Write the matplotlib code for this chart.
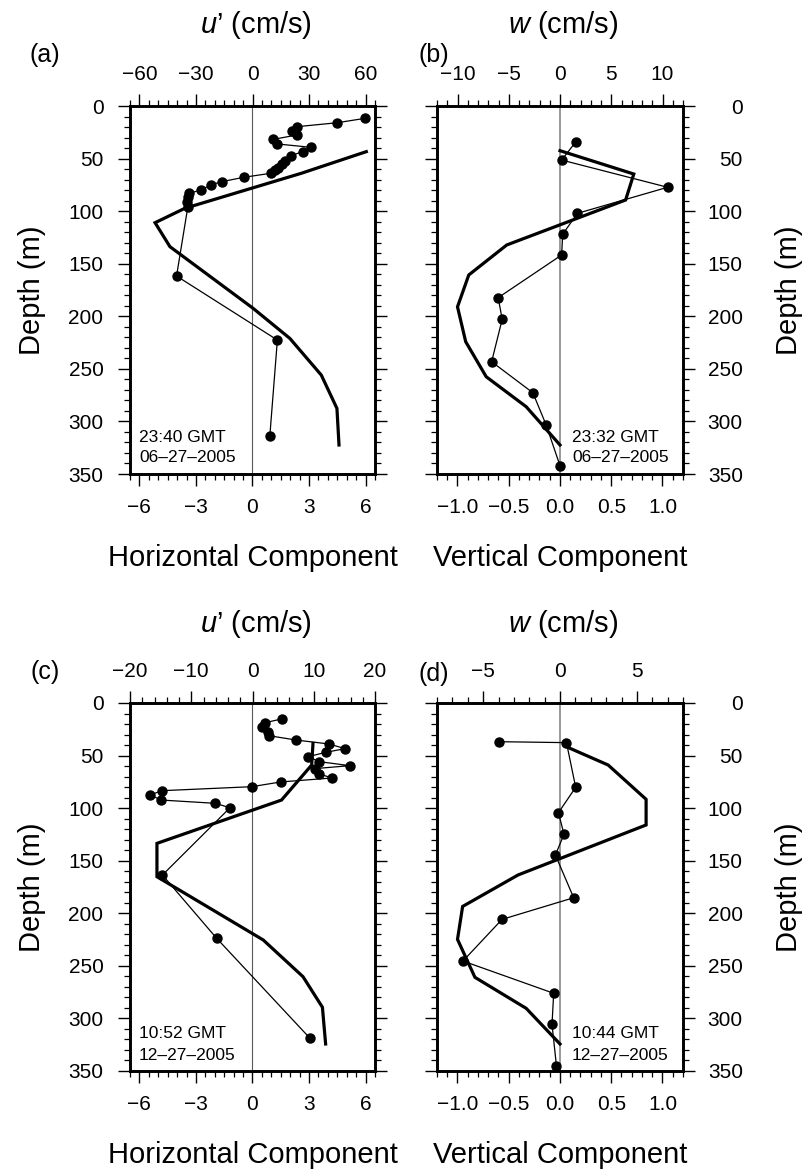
import matplotlib
matplotlib.use("Agg")
import matplotlib.pyplot as plt
from matplotlib.ticker import MultipleLocator, FuncFormatter

plt.rcParams['font.family'] = ['Liberation Sans', 'DejaVu Sans']
plt.rcParams['mathtext.fontset'] = 'custom'
plt.rcParams['mathtext.rm'] = 'Liberation Sans'
plt.rcParams['mathtext.it'] = 'Liberation Sans:italic'

# (a) horizontal, 06-27-2005: observed u' (cm/s) and model profile
u_a = [59.8, 45.0, 23.5, 21.2, 23.5, 11.1, 13.2, 31.0, 26.8, 20.3, 17.1, 15.4, 13.6,
       11.8, 9.7, -4.6, -16.4, -22.1, -27.5, -33.6, -34.3, -34.8, -34.3, -40.3, 13.2, 9.2]
du_a = [11.7, 15.9, 19.7, 23.8, 27.6, 31.7, 36.1, 39.3, 43.4, 47.2, 52.0, 55.2, 58.7,
        60.9, 64.0, 67.8, 72.0, 75.1, 79.9, 83.1, 86.8, 91.0, 95.8, 161.7, 222.6, 313.6]
h_a = [6.04, 2.59, -3.59, -5.17, -4.38, 0.03, 1.98, 3.65, 4.48, 4.59]
dh_a = [43.4, 64.0, 97.3, 111.0, 133.8, 192.4, 221.0, 255.9, 287.6, 322.4]

# (b) vertical, 06-27-2005
w_b = [1.55, 0.16, 10.5, 1.70, 0.26, 0.16, -6.03, -5.64, -6.67, -2.65, -1.35, 0.0]
dw_b = [34.0, 51.4, 77.3, 102.1, 122.0, 141.7, 182.3, 202.9, 243.2, 272.7, 303.4, 342.1]
v_b = [0.0, 0.72, 0.64, -0.52, -0.89, -1.0, -0.92, -0.72, -0.33, 0.0]
dv_b = [42.5, 64.7, 89.4, 132.2, 160.7, 191.0, 224.2, 257.5, 286.0, 322.4]

# (c) horizontal, 12-27-2005
u_c = [4.77, 2.04, 1.60, 2.5, 2.69, 7.10, 12.5, 15.1, 12.0, 9.1, 10.9, 15.9, 10.2,
       10.9, 13.0, 4.6, -0.13, -14.8, -16.7, -14.9, -6.1, -3.67, -14.7, -5.85, 9.39]
du_c = [15.2, 18.7, 23.1, 27.5, 31.1, 35.2, 39.0, 43.4, 46.9, 51.0, 55.8, 59.6, 62.4,
        67.5, 71.3, 75.1, 79.6, 83.4, 87.5, 92.3, 95.4, 99.6, 163.6, 223.8, 318.9]
h_c = [3.21, 3.14, 1.54, -5.07, -5.07, 0.57, 2.68, 3.71, 3.88]
dh_c = [38.4, 59.0, 92.3, 133.5, 165.2, 225.4, 260.3, 289.4, 324.3]

# (d) vertical, 12-27-2005
w_d = [-3.97, 0.42, 1.02, -0.1, 0.26, -0.3, 0.89, -3.77, -6.31, -0.41, -0.52, -0.23]
dw_d = [36.8, 37.7, 80.2, 104.3, 124.9, 144.6, 185.2, 205.8, 245.4, 276.1, 305.6, 345.3]
v_d = [0.06, 0.47, 0.84, 0.84, -0.41, -0.95, -1.0, -0.83, -0.33, 0.0]
dv_d = [41.5, 59.0, 91.6, 116.0, 163.6, 193.5, 224.8, 260.9, 290.4, 324.3]

W, H = 803, 1173
fig = plt.figure(figsize=(W / 100, H / 100), dpi=100)

TICK = 15
BIG = 21


def px(x0, y0, w, h):
    return [x0 / W, 1 - (y0 + h) / H, w / W, h / H]


def minus_fmt(fmt):
    return FuncFormatter(lambda v, pos: (fmt % (v + 0.0)).replace('-', '\u2212'))


def panel(rect, obs_x, obs_d, mod_x, mod_d, top_lim, top_major, top_minor,
          bot_lim, bot_major, bot_minor, bot_fmt, side, zero_color, zero_lw,
          stamp, stamp_x, letter, letter_xy, title, title_y, xlabel, xlabel_y):
    ax = fig.add_axes(px(*rect))
    ax.set_xlim(*bot_lim)
    ax.set_ylim(350, 0)
    ax.axvline(0, color=zero_color, lw=zero_lw, zorder=1)
    ax.plot(mod_x, mod_d, color='black', lw=2.3, zorder=3, solid_joinstyle='miter')
    ax.xaxis.set_major_locator(MultipleLocator(bot_major))
    ax.xaxis.set_minor_locator(MultipleLocator(bot_minor))
    ax.xaxis.set_major_formatter(minus_fmt(bot_fmt))
    ax.set_yticks(range(0, 351, 50))
    ax.yaxis.set_minor_locator(MultipleLocator(10))

    top = ax.twiny()
    top.set_xlim(*top_lim)
    top.plot(obs_x, obs_d, color='black', lw=0.9, marker='o', ms=6.5, zorder=4)
    top.xaxis.set_major_locator(MultipleLocator(top_major))
    top.xaxis.set_minor_locator(MultipleLocator(top_minor))
    top.xaxis.set_major_formatter(minus_fmt('%g'))

    for a in (ax, top):
        for s in a.spines.values():
            s.set_linewidth(1.9)
        a.tick_params(which='major', direction='out', length=8.6, width=1.0, labelsize=TICK)
        a.tick_params(which='minor', direction='out', length=4.3, width=0.9)

    ax.tick_params(axis='x', which='both', bottom=True, top=False, pad=9)
    top.tick_params(axis='x', which='both', top=True, bottom=False, pad=7)
    if side == 'left':
        ax.tick_params(axis='y', which='both', left=True, right=True,
                       labelleft=True, labelright=False, pad=10.5)
    else:
        ax.tick_params(axis='y', which='both', left=True, right=True,
                       labelleft=False, labelright=True, pad=34.5)
        plt.setp(ax.yaxis.get_majorticklabels(), ha='right')

    # time stamp in the lower part of the frame, panel letter, titles
    x0, y0, w, h = rect
    fig.text(stamp_x / W, 1 - (y0 + h - 37) / H, stamp[0], fontsize=12.5,
             va='center', ha='left')
    fig.text(stamp_x / W, 1 - (y0 + h - 16) / H, stamp[1], fontsize=12.5,
             va='center', ha='left')
    fig.text(letter_xy[0] / W, 1 - letter_xy[1] / H, letter, fontsize=18,
             ha='center', va='center')
    fig.text((x0 + w / 2 + 3) / W, 1 - title_y / H, title, fontsize=BIG,
             ha='center', va='center')
    fig.text((x0 + w / 2) / W, 1 - xlabel_y / H, xlabel, fontsize=BIG,
             ha='center', va='center')
    return ax


panel((130, 106, 245, 368), u_a, du_a, h_a, dh_a, (-65, 65), 30, 5,
      (-6.5, 6.5), 3, 0.5, '%g', 'left', '0.35', 0.8,
      ('23:40 GMT', '06\u201327\u20132005'), 139, '(a)', (45, 55),
      "$u$\u2019 (cm/s)", 25, 'Horizontal Component', 558)
panel((437, 106, 246, 368), w_b, dw_b, v_b, dv_b, (-12, 12), 5, 1,
      (-1.2, 1.2), 0.5, 0.1, '%.1f', 'right', '0.6', 1.4,
      ('23:32 GMT', '06\u201327\u20132005'), 572, '(b)', (434, 55),
      "$w$ (cm/s)", 25, 'Vertical Component', 558)
panel((130, 703, 245, 368), u_c, du_c, h_c, dh_c, (-20, 20), 10, 2,
      (-6.5, 6.5), 3, 0.5, '%g', 'left', '0.35', 0.8,
      ('10:52 GMT', '12\u201327\u20132005'), 139, '(c)', (45, 672),
      "$u$\u2019 (cm/s)", 624, 'Horizontal Component', 1155)
panel((437, 703, 246, 368), w_d, dw_d, v_d, dv_d, (-8, 8), 5, 1,
      (-1.2, 1.2), 0.5, 0.1, '%.1f', 'right', '0.6', 1.4,
      ('10:44 GMT', '12\u201327\u20132005'), 572, '(d)', (434, 674),
      "$w$ (cm/s)", 624, 'Vertical Component', 1155)

# depth labels on the outer sides
for yc in (290, 887):
    fig.text(32 / W, 1 - yc / H, 'Depth (m)', fontsize=BIG, rotation=90,
             ha='center', va='center')
    fig.text(789 / W, 1 - yc / H, 'Depth (m)', fontsize=BIG, rotation=90,
             ha='center', va='center')

fig.savefig('out.png', dpi=100)
